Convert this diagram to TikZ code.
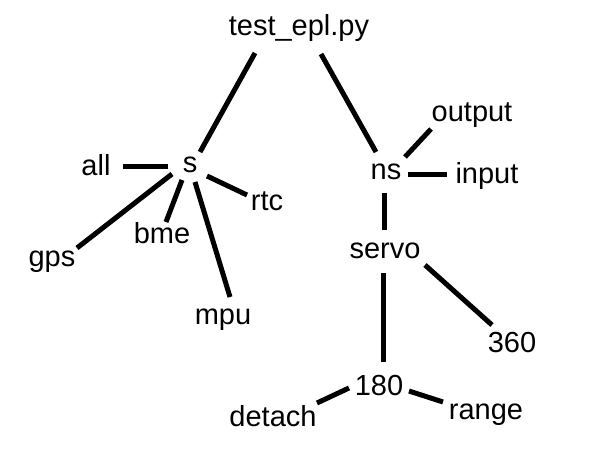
\documentclass[tikz,border=0pt]{standalone}
\usepackage{fontspec}
\setmainfont{Liberation Sans}
\usetikzlibrary{calc}

\begin{document}
\begin{tikzpicture}[x=1pt,y=-1pt,line width=5pt,
    lbl/.style={font=\fontsize{29}{34}\selectfont,inner sep=0pt,text height=21pt,text depth=6pt}]
      \useasboundingbox (0,0) rectangle (600,449);
      \node[lbl](test) at (299,28.5) {test\_epl.py};
      \node[lbl](s) at (190,165.5) {s};
      \node[lbl](all) at (96,168.5) {all};
      \node[lbl](rtc) at (267,203.5) {rtc};
      \node[lbl](gps) at (52,258.5) {gps};
      \node[lbl](bme) at (162,236.5) {bme};
      \node[lbl](mpu) at (223,316.5) {mpu};
      \node[lbl](ns) at (386,172.5) {ns};
      \node[lbl](output) at (472,114.5) {output};
      \node[lbl](input) at (487,176) {input};
      \node[lbl](servo) at (385,251.5) {servo};
      \node[lbl](360) at (512,344.5) {360};
      \node[lbl](180) at (379,387.5) {180};
      \node[lbl](detach) at (273,418.5) {detach};
      \node[lbl](range) at (486,411.5) {range};
      \draw($(test)+(-44,24.5)$)--($(s)+(10,-13.5)$);
      \draw($(test)+(22,25.5)$)--($(ns)+(-10,-20.5)$);
      \draw($(all)+(27,-1.5)$)--($(s)+(-22,1.5)$);
      \draw($(s)+(17,10.5)$)--($(rtc)+(-20,-8.5)$);
      \draw($(s)+(-18,8.5)$)--($(gps)+(25,-10.5)$);
      \draw($(s)+(-8,14.5)$)--($(bme)+(4,-14.5)$);
      \draw($(s)+(5,16.5)$)--($(mpu)+(7,-19.5)$);
      \draw($(ns)+(19,-15.5)$)--($(output)+(-41,14.5)$);
      \draw($(ns)+(22,2.5)$)--($(input)+(-40,-1)$);
      \draw($(ns)+(-2,20.5)$)--($(servo)+(-1,-21.5)$);
      \draw($(servo)+(-2,21.5)$)--($(180)+(4,-25.5)$);
      \draw($(servo)+(40,13.5)$)--($(360)+(-20,-19.5)$);
      \draw($(180)+(-30,0.5)$)--($(detach)+(44,-15.5)$);
      \draw($(180)+(30,3.5)$)--($(range)+(-43,-9.5)$);
    \end{tikzpicture}
\end{document}
